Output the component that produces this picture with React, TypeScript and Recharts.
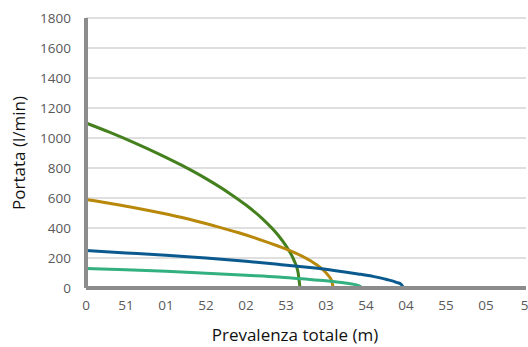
import { LineChart, Line, XAxis, YAxis, CartesianGrid } from 'recharts';

// etichette asse x così come appaiono nel grafico
const xTicks = [0, 5, 10, 15, 20, 25, 30, 35, 40, 45, 50, 55];
const xLabels = ['0', '51', '01', '52', '02', '53', '03', '54', '04', '55', '05', '5'];
const yTicks = [0, 200, 400, 600, 800, 1000, 1200, 1400, 1600, 1800];

// prevalenza (m) / portata (l/min) per ogni curva
const greenH = [0, 3, 6, 9, 12, 15, 18, 20, 22, 24, 25, 26, 26.5, 26.75];
const greenQ = [1100, 1037, 969, 896, 817, 729, 629, 553, 464, 353, 281, 184, 106, 0];

const goldH = [0, 4, 8, 12, 16, 19, 22, 24, 26, 28, 29.5, 30.3, 30.7, 30.9];
const goldQ = [590, 555, 515, 470, 415, 370, 318, 280, 238, 183, 128, 82, 48, 0];

const blueH = [0, 5, 10, 15, 20, 24, 28, 31, 34, 36, 37.6, 38.8, 39.4, 39.7];
const blueQ = [250, 234, 218, 200, 178, 158, 136, 117, 94, 76, 57, 38, 24, 0];

const tealH = [0, 5, 10, 15, 20, 24, 27, 30, 32, 33.5, 34.2, 34.5];
const tealQ = [130, 121, 111, 98, 85, 74, 61, 48, 36, 24, 13, 0];

const toRows = (h: number[], q: number[]) => h.map((v, i) => ({ h: v, q: q[i] }));

const series = [
  { name: 'verde', data: toRows(greenH, greenQ), color: '#44801e' },
  { name: 'oro', data: toRows(goldH, goldQ), color: '#b8880a' },
  { name: 'blu', data: toRows(blueH, blueQ), color: '#0b5a8f' },
  { name: 'turchese', data: toRows(tealH, tealQ), color: '#33b07f' },
];

const FONT = '"Open Sans", "Noto Sans", sans-serif';

export default function App() {
  return (
    <div style={{ position: 'absolute', left: 0, top: 0, fontFamily: FONT }}>
      <LineChart width={528} height={347} margin={{ top: 18, right: 2, bottom: 0, left: 0 }}>
        <CartesianGrid vertical={false} stroke="#d4d4d4" strokeWidth={1.5} />
        <XAxis
          dataKey="h"
          type="number"
          domain={[0, 55]}
          ticks={xTicks}
          tickFormatter={(v: number) => xLabels[xTicks.indexOf(v)] ?? ''}
          height={59}
          stroke="#8c8c8c"
          strokeWidth={4}
          tickLine={false}
          tickSize={4}
          tickMargin={8}
          tick={{ fill: '#595959', fontSize: 13.5, fontFamily: FONT }}
          label={{ value: 'Prevalenza totale (m)', position: 'insideBottom', offset: 6, dx: -11, fill: '#111', fontSize: 17, fontFamily: FONT }}
          allowDuplicatedCategory={false}
        />
        <YAxis
          type="number"
          domain={[0, 1800]}
          ticks={yTicks}
          width={86}
          stroke="#8c8c8c"
          strokeWidth={4}
          tickLine={false}
          tickSize={8}
          tickMargin={7}
          tick={{ fill: '#595959', fontSize: 13.5, fontFamily: FONT }}
          label={{ value: 'Portata (l/min)', angle: -90, position: 'insideLeft', offset: 19, fill: '#111', fontSize: 17, fontFamily: FONT, style: { textAnchor: 'middle' } }}
        />
        {series.map((s) => (
          <Line
            key={s.name}
            data={s.data}
            dataKey="q"
            name={s.name}
            type="monotone"
            stroke={s.color}
            strokeWidth={3}
            dot={false}
            isAnimationActive={false}
          />
        ))}
      </LineChart>
    </div>
  );
}
